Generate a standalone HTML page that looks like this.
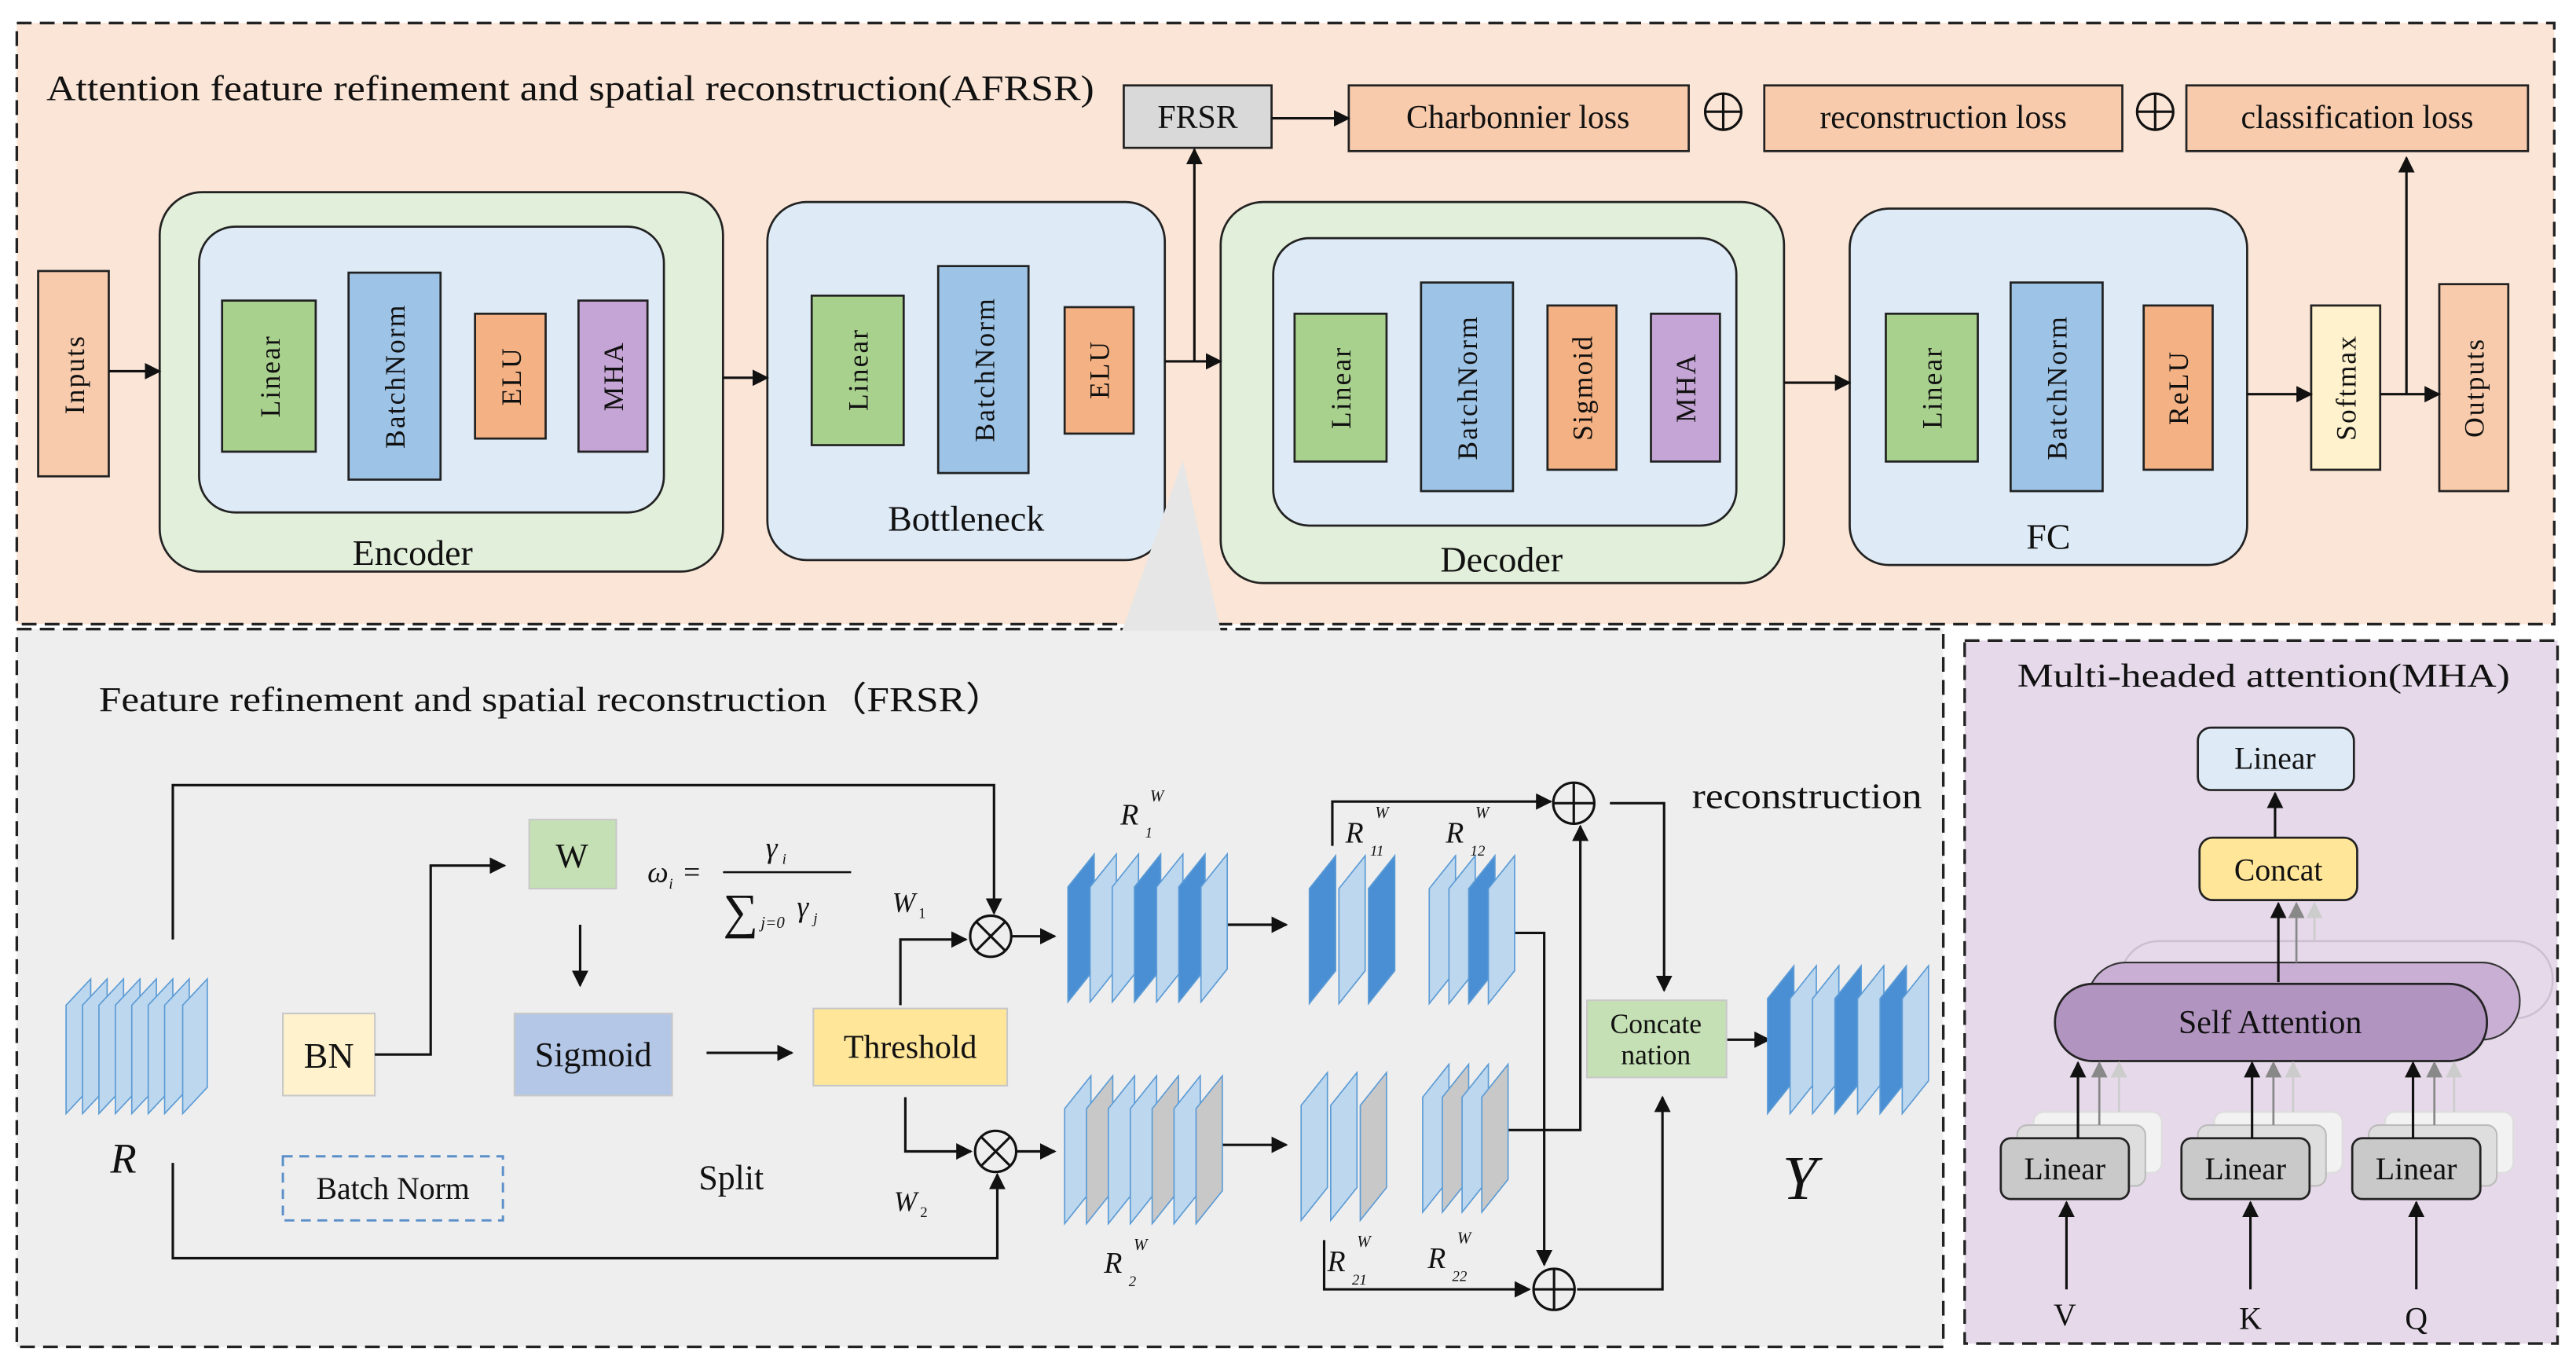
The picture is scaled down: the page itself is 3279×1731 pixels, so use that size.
<!DOCTYPE html>
<html><head><meta charset="utf-8">
<style>
html,body{margin:0;padding:0;background:#fff;}
svg{display:block;}
svg text{font-family:"Liberation Serif","Times New Roman",serif;fill:#111;}
.b{stroke:#222;stroke-width:1.3;}
.ln{stroke:#111;stroke-width:1.5;fill:none;}
.r{font-size:17px;letter-spacing:1px;}
</style></head><body>
<svg width="3279" height="1731" viewBox="0 0 1568 828" xmlns="http://www.w3.org/2000/svg" font-family="Liberation Serif, serif">
<defs>
<marker id="a" markerWidth="10" markerHeight="10" refX="9" refY="5" orient="auto" markerUnits="userSpaceOnUse"><path d="M0,0 L10,5 L0,10 Z" fill="#111"/></marker>
<marker id="ag" markerWidth="10" markerHeight="10" refX="9" refY="5" orient="auto" markerUnits="userSpaceOnUse"><path d="M0,0 L10,5 L0,10 Z" fill="#888"/></marker>
<marker id="al" markerWidth="10" markerHeight="10" refX="9" refY="5" orient="auto" markerUnits="userSpaceOnUse"><path d="M0,0 L10,5 L0,10 Z" fill="#ccc"/></marker>
<path id="sR" d="M0,82 L0,16 L15,0 L15,66 Z" stroke="#5b9bd5" stroke-width="0.8"/>
<path id="sB" d="M0,90 L0,20 L16,0 L16,70 Z" stroke="#5b9bd5" stroke-width="0.8"/>
</defs>

<rect x="10" y="14" width="1545" height="366" fill="#fbe5d6" stroke="#222" stroke-width="1.6" stroke-dasharray="9,5"/>
<text x="28" y="61" font-size="22" textLength="638" lengthAdjust="spacingAndGlyphs">Attention feature refinement and spatial reconstruction(AFRSR)</text>

<rect x="684" y="52" width="90" height="38" fill="#d9d9d9" class="b"/>
<text x="729" y="78" font-size="20" text-anchor="middle">FRSR</text>
<rect x="821" y="52" width="207" height="40" fill="#f8cbad" class="b"/>
<text x="924" y="78" font-size="20" text-anchor="middle">Charbonnier loss</text>
<rect x="1074" y="52" width="218" height="40" fill="#f8cbad" class="b"/>
<text x="1183" y="78" font-size="20" text-anchor="middle">reconstruction loss</text>
<rect x="1331" y="52" width="208" height="40" fill="#f8cbad" class="b"/>
<text x="1435" y="78" font-size="20" text-anchor="middle">classification loss</text>
<g class="ln"><circle cx="1049" cy="68" r="11"/><path d="M1038,68H1060M1049,57V79"/><circle cx="1312" cy="68" r="11"/><path d="M1301,68H1323M1312,57V79"/></g>

<rect x="23" y="165" width="43" height="125" fill="#f8cbad" class="b"/>
<text transform="translate(51,228) rotate(-90)" class="r" text-anchor="middle">Inputs</text>

<rect x="97" y="117" width="343" height="231" rx="26" fill="#e2efda" class="b"/>
<rect x="121" y="138" width="283" height="174" rx="22" fill="#deebf7" class="b"/>
<rect x="135" y="183" width="57" height="92" fill="#a9d18e" class="b"/>
<rect x="212" y="166" width="56" height="126" fill="#9dc3e6" class="b"/>
<rect x="289" y="191" width="43" height="76" fill="#f4b183" class="b"/>
<rect x="352" y="183" width="42" height="92" fill="#c5a5d5" class="b"/>
<text transform="translate(170,229) rotate(-90)" class="r" text-anchor="middle">Linear</text>
<text transform="translate(246,229) rotate(-90)" class="r" text-anchor="middle">BatchNorm</text>
<text transform="translate(317,229) rotate(-90)" class="r" text-anchor="middle">ELU</text>
<text transform="translate(379,229) rotate(-90)" class="r" text-anchor="middle">MHA</text>
<text x="251" y="344" font-size="22" text-anchor="middle">Encoder</text>

<rect x="467" y="123" width="242" height="218" rx="24" fill="#deebf7" class="b"/>
<rect x="494" y="180" width="56" height="91" fill="#a9d18e" class="b"/>
<rect x="571" y="162" width="55" height="126" fill="#9dc3e6" class="b"/>
<rect x="648" y="187" width="42" height="77" fill="#f4b183" class="b"/>
<text transform="translate(528,225) rotate(-90)" class="r" text-anchor="middle">Linear</text>
<text transform="translate(605,225) rotate(-90)" class="r" text-anchor="middle">BatchNorm</text>
<text transform="translate(675,225) rotate(-90)" class="r" text-anchor="middle">ELU</text>
<text x="588" y="323" font-size="22" text-anchor="middle">Bottleneck</text>

<rect x="743" y="123" width="343" height="232" rx="26" fill="#e2efda" class="b"/>
<rect x="775" y="145" width="282" height="175" rx="22" fill="#deebf7" class="b"/>
<rect x="788" y="191" width="56" height="90" fill="#a9d18e" class="b"/>
<rect x="865" y="172" width="56" height="127" fill="#9dc3e6" class="b"/>
<rect x="942" y="186" width="42" height="100" fill="#f4b183" class="b"/>
<rect x="1005" y="191" width="42" height="90" fill="#c5a5d5" class="b"/>
<text transform="translate(822,236) rotate(-90)" class="r" text-anchor="middle">Linear</text>
<text transform="translate(899,236) rotate(-90)" class="r" text-anchor="middle">BatchNorm</text>
<text transform="translate(969,236) rotate(-90)" class="r" text-anchor="middle">Sigmoid</text>
<text transform="translate(1032,236) rotate(-90)" class="r" text-anchor="middle">MHA</text>
<text x="914" y="348" font-size="22" text-anchor="middle">Decoder</text>

<rect x="1126" y="127" width="242" height="217" rx="24" fill="#deebf7" class="b"/>
<rect x="1148" y="191" width="56" height="90" fill="#a9d18e" class="b"/>
<rect x="1224" y="172" width="56" height="127" fill="#9dc3e6" class="b"/>
<rect x="1305" y="186" width="42" height="100" fill="#f4b183" class="b"/>
<text transform="translate(1182,236) rotate(-90)" class="r" text-anchor="middle">Linear</text>
<text transform="translate(1258,236) rotate(-90)" class="r" text-anchor="middle">BatchNorm</text>
<text transform="translate(1332,236) rotate(-90)" class="r" text-anchor="middle">ReLU</text>
<text x="1247" y="334" font-size="22" text-anchor="middle">FC</text>

<rect x="1407" y="186" width="42" height="100" fill="#fff2cc" class="b"/>
<text transform="translate(1434,236) rotate(-90)" class="r" text-anchor="middle">Softmax</text>
<rect x="1485" y="173" width="42" height="126" fill="#f8cbad" class="b"/>
<text transform="translate(1512,236) rotate(-90)" class="r" text-anchor="middle">Outputs</text>

<g class="ln" marker-end="url(#a)">
<path d="M66,226H97"/><path d="M440,230H467"/><path d="M709,220H743"/>
<path d="M727,220V91"/><path d="M774,72H821"/><path d="M1086,233H1126"/>
<path d="M1368,240H1407"/><path d="M1449,240H1485"/><path d="M1465,240V96"/>
</g>

<rect x="10" y="383" width="1173" height="437" fill="#eeeeee" stroke="#222" stroke-width="1.6" stroke-dasharray="9,5"/>
<polygon points="720,280 683,384 743,384" fill="#e6e6e6"/>
<text x="60" y="433" font-size="21" textLength="552" lengthAdjust="spacingAndGlyphs">Feature refinement and spatial reconstruction（FRSR）</text>

<g fill="#bdd7ee">
<use href="#sR" x="40" y="596"/><use href="#sR" x="50" y="596"/><use href="#sR" x="60" y="596"/><use href="#sR" x="70" y="596"/><use href="#sR" x="80" y="596"/><use href="#sR" x="90" y="596"/><use href="#sR" x="100" y="596"/><use href="#sR" x="111" y="596"/>
</g>
<text x="67" y="714" font-size="26" font-style="italic">R</text>

<rect x="172" y="617" width="56" height="50" fill="#fff2cc" stroke="#c8c8c8"/>
<text x="200" y="650" font-size="22" text-anchor="middle">BN</text>
<rect x="322" y="499" width="53" height="42" fill="#c5e0b4" stroke="#c8c8c8"/>
<text x="348" y="528" font-size="21" text-anchor="middle">W</text>
<rect x="313" y="617" width="96" height="50" fill="#b4c7e7" stroke="#c8c8c8"/>
<text x="361" y="649" font-size="21" text-anchor="middle">Sigmoid</text>
<rect x="495" y="614" width="118" height="47" fill="#ffe699" stroke="#c8c8c8"/>
<text x="554" y="644" font-size="20" text-anchor="middle">Threshold</text>
<rect x="172" y="704" width="134" height="39" fill="none" stroke="#5b8fc9" stroke-width="1.4" stroke-dasharray="6,4"/>
<text x="239" y="730" font-size="19" text-anchor="middle">Batch Norm</text>
<text x="445" y="724" font-size="21" text-anchor="middle">Split</text>

<text x="394" y="537" font-size="18" font-style="italic">ω</text><text x="407" y="541" font-size="9" font-style="italic">i</text>
<text x="416" y="537" font-size="18">=</text>
<line x1="440" y1="531" x2="518" y2="531" stroke="#111" stroke-width="1.2"/>
<text x="466" y="522" font-size="18" font-style="italic">γ</text><text x="476" y="526" font-size="9" font-style="italic">i</text>
<text x="440" y="565" font-size="30">∑</text>
<text x="463" y="565" font-size="10" font-style="italic">j=0</text>
<text x="485" y="558" font-size="18" font-style="italic">γ</text><text x="495" y="562" font-size="9" font-style="italic">j</text>
<text x="543" y="555" font-size="17" font-style="italic">W</text><text x="559" y="559" font-size="9">1</text>
<text x="544" y="737" font-size="17" font-style="italic">W</text><text x="560" y="741" font-size="9">2</text>

<g class="ln"><circle cx="603" cy="570" r="12.5"/><path d="M594,561L612,579M612,561L594,579"/>
<circle cx="606" cy="701" r="12.5"/><path d="M597,692L615,710M615,692L597,710"/>
<circle cx="958" cy="489" r="12.5"/><path d="M945.5,489H970.5M958,476.5V501.5"/>
<circle cx="946" cy="785" r="12.5"/><path d="M933.5,785H958.5M946,772.5V797.5"/></g>

<g class="ln">
<path d="M105,572V478H605V556" marker-end="url(#a)"/>
<path d="M105,708V766H607V715" marker-end="url(#a)"/>
<path d="M228,642H262V527H307" marker-end="url(#a)"/>
<path d="M353,563V600" marker-end="url(#a)"/>
<path d="M430,641H482" marker-end="url(#a)"/>
<path d="M548,612V572H588" marker-end="url(#a)"/>
<path d="M551,668V701H591" marker-end="url(#a)"/>
<path d="M616,570H642" marker-end="url(#a)"/>
<path d="M619,701H642" marker-end="url(#a)"/>
<path d="M740,563H783" marker-end="url(#a)"/>
<path d="M738,697H783" marker-end="url(#a)"/>
<path d="M811,515V488H944" marker-end="url(#a)"/>
<path d="M915,568H940V770" marker-end="url(#a)"/>
<path d="M915,688H962V503" marker-end="url(#a)"/>
<path d="M806,755V785H931" marker-end="url(#a)"/>
<path d="M980,489H1013V603" marker-end="url(#a)"/>
<path d="M960,785H1012V668" marker-end="url(#a)"/>
<path d="M1051,633H1077" marker-end="url(#a)"/>
</g>

<use href="#sB" x="650" y="520" fill="#4a8fd4"/><use href="#sB" x="663.5" y="520" fill="#bdd7ee"/><use href="#sB" x="677" y="520" fill="#bdd7ee"/><use href="#sB" x="690.5" y="520" fill="#4a8fd4"/><use href="#sB" x="704" y="520" fill="#bdd7ee"/><use href="#sB" x="717.5" y="520" fill="#4a8fd4"/><use href="#sB" x="731" y="520" fill="#bdd7ee"/>
<use href="#sB" x="648" y="655" fill="#bdd7ee"/><use href="#sB" x="661.3" y="655" fill="#c8c8c8"/><use href="#sB" x="674.6" y="655" fill="#bdd7ee"/><use href="#sB" x="688" y="655" fill="#bdd7ee"/><use href="#sB" x="701.3" y="655" fill="#c8c8c8"/><use href="#sB" x="714.6" y="655" fill="#bdd7ee"/><use href="#sB" x="728" y="655" fill="#c8c8c8"/>
<use href="#sB" x="797" y="521" fill="#4a8fd4"/><use href="#sB" x="815" y="521" fill="#bdd7ee"/><use href="#sB" x="833" y="521" fill="#4a8fd4"/>
<use href="#sB" x="870" y="521" fill="#bdd7ee"/><use href="#sB" x="882" y="521" fill="#bdd7ee"/><use href="#sB" x="894" y="521" fill="#4a8fd4"/><use href="#sB" x="906" y="521" fill="#bdd7ee"/>
<use href="#sB" x="792" y="653" fill="#bdd7ee"/><use href="#sB" x="810" y="653" fill="#bdd7ee"/><use href="#sB" x="828" y="653" fill="#c8c8c8"/>
<use href="#sB" x="866" y="648" fill="#bdd7ee"/><use href="#sB" x="878" y="648" fill="#c8c8c8"/><use href="#sB" x="890" y="648" fill="#bdd7ee"/><use href="#sB" x="902" y="648" fill="#c8c8c8"/>
<use href="#sB" x="1076" y="588" fill="#4a8fd4"/><use href="#sB" x="1089.7" y="588" fill="#bdd7ee"/><use href="#sB" x="1103.4" y="588" fill="#bdd7ee"/><use href="#sB" x="1117" y="588" fill="#4a8fd4"/><use href="#sB" x="1130.8" y="588" fill="#bdd7ee"/><use href="#sB" x="1144.5" y="588" fill="#4a8fd4"/><use href="#sB" x="1158" y="588" fill="#bdd7ee"/>

<g font-style="italic">
<text x="682" y="502" font-size="18">R</text><text x="697" y="510" font-size="9">1</text><text x="700" y="488" font-size="10">W</text>
<text x="672" y="775" font-size="18">R</text><text x="687" y="783" font-size="9">2</text><text x="690" y="761" font-size="10">W</text>
<text x="819" y="513" font-size="18">R</text><text x="834" y="521" font-size="9">11</text><text x="837" y="498" font-size="10">W</text>
<text x="880" y="513" font-size="18">R</text><text x="895" y="521" font-size="9">12</text><text x="898" y="498" font-size="10">W</text>
<text x="808" y="774" font-size="18">R</text><text x="823" y="782" font-size="9">21</text><text x="826" y="759" font-size="10">W</text>
<text x="869" y="772" font-size="18">R</text><text x="884" y="780" font-size="9">22</text><text x="887" y="757" font-size="10">W</text>
<text x="1085" y="730" font-size="38">Y</text>
</g>

<rect x="966" y="609" width="85" height="47" fill="#c5e0b4" stroke="#c8c8c8"/>
<text x="1008" y="629" font-size="17" text-anchor="middle">Concate</text>
<text x="1008" y="648" font-size="17" text-anchor="middle">nation</text>
<text x="1030" y="492" font-size="22" textLength="140" lengthAdjust="spacingAndGlyphs">reconstruction</text>

<rect x="1196" y="390" width="361" height="428" fill="#e6d9ea" stroke="#222" stroke-width="1.6" stroke-dasharray="9,5"/>
<text x="1228" y="418" font-size="20" textLength="300" lengthAdjust="spacingAndGlyphs">Multi-headed attention(MHA)</text>
<rect x="1338" y="443" width="95" height="38" rx="8" fill="#deebf7" class="b"/>
<text x="1385" y="468" font-size="19" text-anchor="middle">Linear</text>
<rect x="1339" y="510" width="96" height="38" rx="8" fill="#ffe699" class="b"/>
<text x="1387" y="536" font-size="19" text-anchor="middle">Concat</text>
<path d="M1385,510V483" class="ln" marker-end="url(#a)"/>

<rect x="1291" y="573" width="263" height="47" rx="23" fill="none" stroke="#cdbfd2" stroke-width="1.2"/>
<rect x="1271" y="586" width="263" height="47" rx="23" fill="#c9afd3" stroke="#333" stroke-width="1"/>
<rect x="1251" y="599" width="263" height="47" rx="23" fill="#b294c1" class="b"/>
<text x="1382" y="629" font-size="20" text-anchor="middle">Self Attention</text>
<path d="M1387,598V550" class="ln" marker-end="url(#a)"/>
<path d="M1398,586V550" stroke="#888" stroke-width="1.3" marker-end="url(#ag)"/>
<path d="M1409,573V550" stroke="#ccc" stroke-width="1.3" marker-end="url(#al)"/>

<g>
<rect x="1238" y="677" width="78" height="37" rx="6" fill="#f2f2f2" stroke="#ddd"/>
<rect x="1228" y="685" width="78" height="37" rx="6" fill="#dedede" stroke="#bbb"/>
<rect x="1218" y="693" width="78" height="37" rx="6" fill="#c9c9c9" class="b"/>
<text x="1257" y="718" font-size="19" text-anchor="middle">Linear</text>
<rect x="1348" y="677" width="78" height="37" rx="6" fill="#f2f2f2" stroke="#ddd"/>
<rect x="1338" y="685" width="78" height="37" rx="6" fill="#dedede" stroke="#bbb"/>
<rect x="1328" y="693" width="78" height="37" rx="6" fill="#c9c9c9" class="b"/>
<text x="1367" y="718" font-size="19" text-anchor="middle">Linear</text>
<rect x="1452" y="677" width="78" height="37" rx="6" fill="#f2f2f2" stroke="#ddd"/>
<rect x="1442" y="685" width="78" height="37" rx="6" fill="#dedede" stroke="#bbb"/>
<rect x="1432" y="693" width="78" height="37" rx="6" fill="#c9c9c9" class="b"/>
<text x="1471" y="718" font-size="19" text-anchor="middle">Linear</text>
</g>
<g>
<path d="M1265,693V647" class="ln" marker-end="url(#a)"/><path d="M1278,685V647" stroke="#888" stroke-width="1.3" marker-end="url(#ag)"/><path d="M1290,677V647" stroke="#ccc" stroke-width="1.3" marker-end="url(#al)"/>
<path d="M1371,693V647" class="ln" marker-end="url(#a)"/><path d="M1384,685V647" stroke="#888" stroke-width="1.3" marker-end="url(#ag)"/><path d="M1396,677V647" stroke="#ccc" stroke-width="1.3" marker-end="url(#al)"/>
<path d="M1469,693V647" class="ln" marker-end="url(#a)"/><path d="M1482,685V647" stroke="#888" stroke-width="1.3" marker-end="url(#ag)"/><path d="M1494,677V647" stroke="#ccc" stroke-width="1.3" marker-end="url(#al)"/>
<path d="M1258,785V732" class="ln" marker-end="url(#a)"/>
<path d="M1370,785V732" class="ln" marker-end="url(#a)"/>
<path d="M1471,785V732" class="ln" marker-end="url(#a)"/>
</g>
<text x="1257" y="807" font-size="19" text-anchor="middle">V</text>
<text x="1370" y="809" font-size="19" text-anchor="middle">K</text>
<text x="1471" y="809" font-size="19" text-anchor="middle">Q</text>
</svg>
</body></html>
